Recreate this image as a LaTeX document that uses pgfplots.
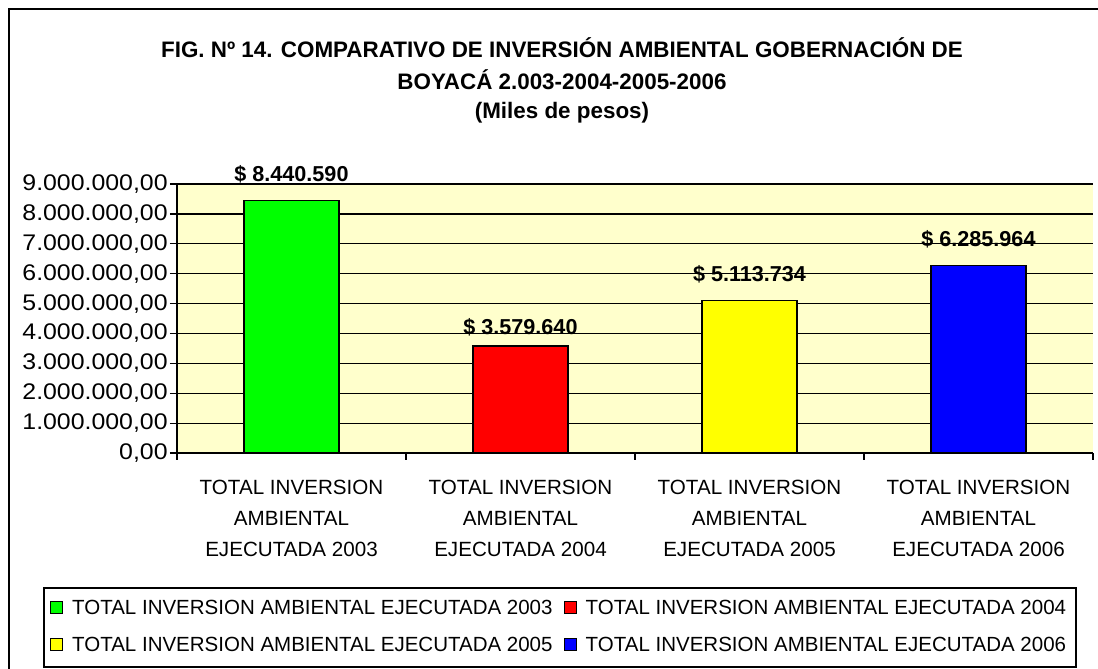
\documentclass[border=0pt]{standalone}
\usepackage{pgfplots}
\pgfplotsset{compat=1.18}
\usepackage{fontspec}
\setmainfont{Liberation Sans}
\newfontfamily\tickfont[FakeStretch=1.1]{Liberation Sans}
\definecolor{bgyel}{HTML}{FFFFCC}
\definecolor{cgreen}{HTML}{00FF00}
\definecolor{cred}{HTML}{FF0000}
\definecolor{cyel}{HTML}{FFFF00}
\definecolor{cblue}{HTML}{0000FF}
\begin{document}
\begin{tikzpicture}
\path[use as bounding box, clip] (0,0) rectangle (549pt,334.5pt);
\fill[white] (0,0) rectangle (549pt,334.5pt);
\draw[line width=1pt] (4.25pt,-20pt) -- (4.25pt,329.75pt) -- (600pt,329.75pt);
\node[font=\fontsize{11.2}{13}\selectfont\bfseries] at (281pt,310.5pt) {FIG. Nº 14. COMPARATIVO DE INVERSIÓN AMBIENTAL GOBERNACIÓN DE};
\node[font=\fontsize{11.2}{13}\selectfont\bfseries] at (281pt,294.5pt) {BOYACÁ 2.003-2004-2005-2006};
\node[font=\fontsize{11.2}{13}\selectfont\bfseries] at (281pt,278pt) {(Miles de pesos)};
\begin{axis}[
  at={(88.5pt,108pt)}, anchor=south west,
  width=458pt, height=134.5pt, scale only axis,
  xmin=-0.5, xmax=3.5, ymin=0, ymax=9000000,
  axis background/.style={fill=bgyel},
  axis x line*=bottom, axis y line*=left,
  axis line style={-, line width=0.6pt, black},
  tick style={black, line width=0.6pt},
  major x tick style={draw=none},
  tick align=outside,
  major tick length=3.5pt, minor tick length=3.5pt,
  ytick={0,1000000,...,9000000},
  scaled y ticks=false,
  ymajorgrids, major grid style={black, line width=0.6pt},
  yticklabel style={font=\tickfont\fontsize{11.3}{12}\selectfont, inner sep=0pt, xshift=-1pt,
    /pgf/number format/.cd, fixed, fixed zerofill, precision=2, use comma, 1000 sep={.}, assume math mode=true},
  xtick={0,1,2,3},
  minor xtick={-0.5,0.5,1.5,2.5,3.5},
  xticklabels={{TOTAL INVERSION\\AMBIENTAL\\EJECUTADA 2003},{TOTAL INVERSION\\AMBIENTAL\\EJECUTADA 2004},{TOTAL INVERSION\\AMBIENTAL\\EJECUTADA 2005},{TOTAL INVERSION\\AMBIENTAL\\EJECUTADA 2006}},
  xticklabel style={align=center, font=\fontsize{10.3}{15.5}\selectfont, inner sep=0pt, yshift=-10pt},
  ybar, bar width=0.415, bar shift=0pt,
  point meta=explicit symbolic,
  nodes near coords,
  every node near coord/.append style={font=\fontsize{10.8}{12}\selectfont\bfseries, anchor=center, yshift=13pt},
  legend columns=2,
  legend cell align=left,
  legend image code/.code={\draw[#1] (0pt,-2.4pt) rectangle (6pt,3.6pt);},
  legend style={at={(-0.1463,-0.498)}, anchor=north west, draw=black, line width=1pt,
    font=\fontsize{10.25}{12}\selectfont, inner xsep=3pt, inner ysep=4pt, row sep=6pt,
    /tikz/every odd column/.append style={column sep=2.5pt},
    /tikz/every even column/.append style={column sep=3.5pt}},
]
\addplot[fill=cgreen, draw=black, line width=0.6pt] coordinates {(0,8440590) [\$ 8.440.590]};
\addplot[fill=cred, draw=black, line width=0.6pt, every node near coord/.append style={yshift=-3.5pt}] coordinates {(1,3579640) [\$ 3.579.640]};
\addplot[fill=cyel, draw=black, line width=0.6pt] coordinates {(2,5113734) [\$ 5.113.734]};
\addplot[fill=cblue, draw=black, line width=0.6pt] coordinates {(3,6285964) [\$ 6.285.964]};
\legend{TOTAL INVERSION AMBIENTAL EJECUTADA 2003, TOTAL INVERSION AMBIENTAL EJECUTADA 2004, TOTAL INVERSION AMBIENTAL EJECUTADA 2005, TOTAL INVERSION AMBIENTAL EJECUTADA 2006}
\end{axis}
\end{tikzpicture}
\end{document}
